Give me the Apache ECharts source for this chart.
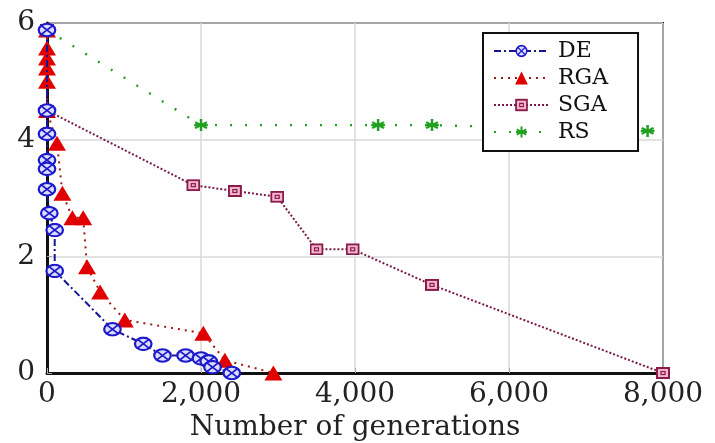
<!DOCTYPE html>
<html>
<head>
<meta charset="utf-8">
<script src="https://cdn.jsdelivr.net/npm/echarts@6/dist/echarts.min.js"></script>
<style>
html,body{margin:0;padding:0;background:#fff;}
#chart{width:715px;height:443px;}
</style>
</head>
<body>
<div id="chart"></div>
<script>
// ---- data ----
var seriesNames = ['DE', 'RGA', 'SGA', 'RS'];
var deX  = [0, 0, 0, 0, 0, 0, 30, 100, 100, 850, 1250, 1500, 1800, 2000, 2100, 2150, 2400];
var deY  = [5.88, 4.5, 4.1, 3.65, 3.5, 3.15, 2.74, 2.45, 1.75, 0.75, 0.5, 0.3, 0.3, 0.25, 0.2, 0.1, 0];
var rgaX = [0, 0, 0, 0, 0, 0, 130, 200, 330, 470, 520, 690, 1010, 2030, 2310, 2940];
var rgaY = [5.88, 5.57, 5.4, 5.23, 5.0, 4.5, 3.94, 3.08, 2.66, 2.66, 1.82, 1.39, 0.91, 0.68, 0.22, 0];
var sgaX = [0, 0, 1900, 2440, 2990, 3500, 3970, 5000, 8000];
var sgaY = [5.88, 4.5, 3.22, 3.12, 3.02, 2.12, 2.12, 1.51, 0];
var rsX  = [0, 2000, 4300, 5000, 7800];
var rsY  = [5.88, 4.25, 4.25, 4.25, 4.15];
var xTickLabels = ['0', '2,000', '4,000', '6,000', '8,000'];
var yTickLabels = ['0', '2', '4', '6'];
var xAxisTitle = 'Number of generations';

function pairs(xs, ys){ return xs.map(function(x,i){ return [x, ys[i]]; }); }
function svg(s){ return 'image://data:image/svg+xml;charset=utf-8,' + encodeURIComponent(s); }

var deSym = svg("<svg xmlns='http://www.w3.org/2000/svg' width='40' height='32' viewBox='0 0 20 16'><ellipse cx='10' cy='8' rx='8.3' ry='6.6' fill='#dcdcff' stroke='#1a1acc' stroke-width='2.2'/><path d='M4.6 3.6L15.4 12.4M15.4 3.6L4.6 12.4' stroke='#1a1acc' stroke-width='1.8'/></svg>");
var sgaSym = svg("<svg xmlns='http://www.w3.org/2000/svg' width='28' height='24' viewBox='0 0 14 12'><rect x='1' y='1' width='12' height='10' fill='#f2b6cf' stroke='#8a1a4a' stroke-width='2'/><rect x='5' y='4.5' width='4' height='3' fill='none' stroke='#8a1a4a' stroke-width='1.2'/></svg>");
var rsSym = svg("<svg xmlns='http://www.w3.org/2000/svg' width='28' height='28' viewBox='0 0 14 14'><path d='M7 1V13M1.8 4L12.2 10M1.8 10L12.2 4M1 7H13' stroke='#22a022' stroke-width='2.2'/></svg>");

var serif = '"DejaVu Serif", "Liberation Serif", serif';

var chart = echarts.init(document.getElementById('chart'), null, {renderer:'canvas'});
chart.setOption({
  backgroundColor: '#fff',
  animation: false,
  grid: {left: 47, right: 52, top: 23, bottom: 70, containLabel: false, outerBoundsMode: 'none',
    show: true, borderColor: '#111', borderWidth: 2, backgroundColor: 'transparent'},
  legend: {
    orient: 'vertical', left: 483, top: 33,
    padding: [7, 30, 8, 10],
    backgroundColor: '#fff', borderColor: '#111', borderWidth: 2,
    itemWidth: 55, itemHeight: 16, itemGap: 5,
    textStyle: {fontFamily: serif, fontSize: 22, color: '#111', padding: [0,0,0,4]},
    data: seriesNames
  },
  xAxis: {
    type: 'value', min: 0, max: 8000, interval: 2000,
    axisLine: {show: true, lineStyle: {color: '#111', width: 3}},
    axisTick: {show: true, inside: true, length: 5, lineStyle: {color: '#aaa'}},
    splitLine: {show: true, lineStyle: {color: '#d8d8d8', width: 1.5}},
    axisLabel: {fontFamily: serif, fontSize: 28, color: '#222', margin: 8,
      formatter: function(v){ return xTickLabels[Math.round(v/2000)]; }},
    name: xAxisTitle, nameLocation: 'middle', nameGap: 38,
    nameTextStyle: {fontFamily: serif, fontSize: 28, color: '#222'}
  },
  yAxis: {
    type: 'value', min: 0, max: 6, interval: 2,
    axisLine: {show: true, lineStyle: {color: '#111', width: 3}},
    axisTick: {show: true, inside: true, length: 5, lineStyle: {color: '#aaa'}},
    splitLine: {show: true, lineStyle: {color: '#d8d8d8', width: 1.5}},
    axisLabel: {fontFamily: serif, fontSize: 28, color: '#222', margin: 12,
      formatter: function(v){ return yTickLabels[Math.round(v/2)]; }}
  },
  series: [
    {name: 'RS', type: 'line', data: pairs(rsX, rsY), symbol: rsSym, symbolSize: [16, 14], z: 2,
      lineStyle: {color: '#22a022', width: 2.4, type: [2, 13]}, itemStyle: {color: '#22a022'}},
    {name: 'SGA', type: 'line', data: pairs(sgaX, sgaY), symbol: sgaSym, symbolSize: [14, 12], z: 3,
      lineStyle: {color: '#7a1a48', width: 2, type: [2, 2]}, itemStyle: {color: '#c0487a'}},
    {name: 'RGA', type: 'line', data: pairs(rgaX, rgaY), symbol: 'triangle', symbolSize: [18, 15], z: 4,
      lineStyle: {color: '#a01818', width: 2, type: [2, 5]}, itemStyle: {color: '#e00000'}},
    {name: 'DE', type: 'line', data: pairs(deX, deY), symbol: deSym, symbolSize: [20, 15], z: 5,
      lineStyle: {color: '#161690', width: 2, type: [7, 3, 2, 3]}, itemStyle: {color: '#1a1acc'}}
  ]
});
</script>
</body>
</html>
